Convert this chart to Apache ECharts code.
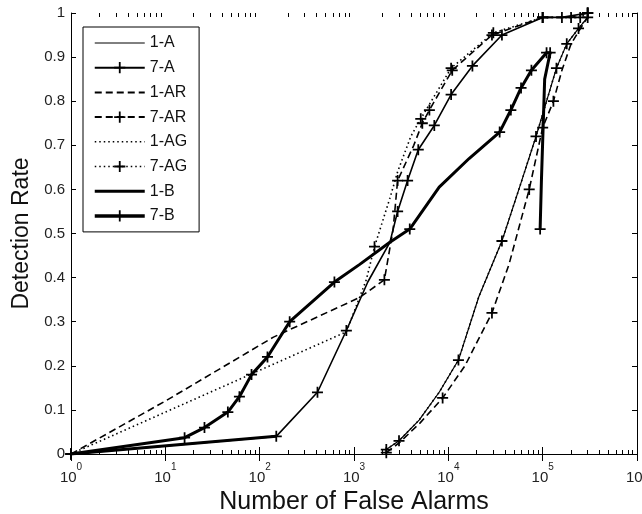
<!DOCTYPE html>
<html>
<head>
<meta charset="utf-8">
<script src="https://cdn.jsdelivr.net/npm/echarts@6/dist/echarts.min.js"></script>
<style>html,body{margin:0;padding:0;background:#fff;}#c{width:642px;height:514px;}</style>
</head>
<body>
<div id="c"></div>
<script>
// ---- data: [falseAlarms, detectionRate, marker(1/0)] ----
const names = ['1-A','7-A','1-AR','7-AR','1-AG','7-AG','1-B','7-B'];
const s1A = [[2200,0.01,1],[3000,0.03,1],[4900,0.077,0],[8000,0.14,0],[12800,0.213,1],[21000,0.356,0],[37000,0.483,1],[60000,0.62,0],[85000,0.72,1],[110000,0.80,0],[140000,0.875,1],[180000,0.93,1],[240000,0.965,1],[300000,0.99,1]];
const s7A = [[1,0,1],[150,0.04,1],[410,0.14,1],[830,0.28,1],[1400,0.39,0],[2400,0.48,0],[2900,0.55,1],[3700,0.62,1],[4800,0.69,1],[7100,0.745,1],[10700,0.815,1],[18000,0.88,1],[37000,0.95,1],[100000,0.99,1],[160000,0.99,1],[300000,1.0,1]];
const s1AR = [[2200,0.003,1],[3000,0.025,0],[5000,0.07,0],[8700,0.127,1],[15000,0.2,0],[29000,0.32,1],[44000,0.43,0],[72000,0.60,1],[100000,0.74,1],[130000,0.80,1],[160000,0.87,0],[200000,0.93,0],[260000,0.97,0],[300000,0.99,0]];
const s7AR = [[1,0,1],[10,0.12,0],[140,0.265,0],[1150,0.355,0],[2100,0.395,1],[2600,0.51,0],[2900,0.62,1],[4300,0.70,0],[5300,0.75,1],[6300,0.78,1],[11000,0.87,1],[29000,0.95,1],[100000,0.99,1],[200000,0.99,1],[300000,1.0,1]];
const s1AG = [[2200,0.01,0],[3000,0.03,0],[4900,0.077,0],[8000,0.14,0],[12800,0.213,0],[21000,0.356,0],[37000,0.483,0],[60000,0.62,0],[85000,0.72,0],[110000,0.80,0],[140000,0.875,0],[180000,0.93,0],[240000,0.965,0],[300000,0.99,0]];
const s7AG = [[1,0,1],[830,0.277,0],[1350,0.395,0],[1650,0.47,1],[2400,0.58,0],[2900,0.64,0],[4000,0.72,0],[5100,0.76,1],[10700,0.875,1],[30000,0.955,1],[100000,0.99,1],[250000,0.99,1],[300000,1.0,1]];
const s1B = [[1,0,0],[150,0.04,0]];
const s7B = [[1,0,1],[16,0.037,1],[26,0.06,1],[46,0.095,1],[61,0.13,1],[82,0.18,1],[121,0.22,1],[208,0.30,1],[620,0.39,1],[1150,0.43,0],[2400,0.48,0],[3900,0.51,1],[8000,0.605,0],[16600,0.67,0],[35000,0.73,1],[46000,0.78,1],[59000,0.83,1],[76000,0.87,1],[110000,0.91,1],[120000,0.91,1],[105000,0.85,0],[97000,0.62,0],[94000,0.51,1]];
const xMajor = [1,10,100,1000,10000,100000,1000000];
const xMinor = [];
for (let e = 0; e < 6; e++) for (let m = 2; m <= 9; m++) xMinor.push(m * Math.pow(10, e));
const yTicks = [0,0.1,0.2,0.3,0.4,0.5,0.6,0.7,0.8,0.9,1];

const FONT = '"Liberation Sans", Arial, Helvetica, sans-serif';
const PLUS = 'path://M-0.16,-1H0.16V-0.16H1V0.16H0.16V1H-0.16V0.16H-1V-0.16H-0.16Z';

function mk(name, pts, type, width, marker, z) {
  return {
    name: name, type: 'line', z: z,
    data: pts.map(p => ({ value: [p[0], p[1]], symbol: p[2] ? PLUS : 'none' })),
    symbol: marker ? PLUS : 'none', symbolSize: 11, showAllSymbol: true,
    lineStyle: { color: '#000', width: width, type: type },
    itemStyle: { color: '#000' },
    emphasis: { disabled: true }, animation: false, clip: true
  };
}
const dashed = [7, 4], dotted = [1.5, 3];
const styles = {
  '1-A':  { type: 'solid', w: 1.2, m: false },
  '7-A':  { type: 'solid', w: 1.6, m: true },
  '1-AR': { type: dashed,  w: 1.6, m: false },
  '7-AR': { type: dashed,  w: 1.6, m: true },
  '1-AG': { type: dotted,  w: 1.6, m: false },
  '7-AG': { type: dotted,  w: 1.6, m: true },
  '1-B':  { type: 'solid', w: 3,   m: false },
  '7-B':  { type: 'solid', w: 3,   m: true }
};
const pts = { '1-A': s1A, '7-A': s7A, '1-AR': s1AR, '7-AR': s7AR, '1-AG': s1AG, '7-AG': s7AG, '1-B': s1B, '7-B': s7B };
const zs = { '1-A': 2, '7-A': 3, '1-AR': 2, '7-AR': 3, '1-AG': 2, '7-AG': 3, '1-B': 4, '7-B': 5 };
const series = names.map(n => mk(n, pts[n], styles[n].type, styles[n].w, styles[n].m, zs[n]));
const legendLineW = { '1-A': 1, '7-A': 2, '1-AR': 2, '7-AR': 2, '1-AG': 1.5, '7-AG': 1.5, '1-B': 3, '7-B': 3.5 };
const legendData = names.map(n => ({
  name: n,
  itemStyle: styles[n].m ? { color: '#000', opacity: 1 } : { opacity: 0 },
  lineStyle: { color: '#000', width: legendLineW[n], type: styles[n].type }
}));

const grid = { left: 71, right: 5, top: 13, bottom: 60, containLabel: false, outerBoundsMode: 'none' };
const lineBlack = { show: true, lineStyle: { color: '#000', width: 1 } };
function xAx(pos, ticks, len, labels, line) {
  return {
    type: 'log', logBase: 10, min: 1, max: 1000000, position: pos,
    axisLine: line ? lineBlack : { show: false },
    axisTick: { show: true, inside: true, length: len, customValues: ticks, lineStyle: { color: '#000', width: 1 } },
    axisLabel: labels ? {
      show: true, customValues: xMajor, margin: 8, color: '#222', fontFamily: FONT, fontSize: 15,
      formatter: v => '{b|10}{s|' + Math.round(Math.log10(v)) + '}',
      rich: { b: { fontSize: 15, fontFamily: FONT, color: '#222', padding: [8, 0, 0, 0] }, s: { fontSize: 10, fontFamily: FONT, color: '#222', verticalAlign: 'top', padding: [0, 0, 0, 0] } }
    } : { show: false },
    splitLine: { show: false }, minorSplitLine: { show: false }
  };
}
function yAx(pos, labels) {
  return {
    type: 'value', min: 0, max: 1, interval: 0.1, position: pos,
    axisLine: lineBlack,
    axisTick: { show: true, inside: true, length: 5, lineStyle: { color: '#000' } },
    axisLabel: labels ? { show: true, margin: 6, color: '#222', fontFamily: FONT, fontSize: 15 } : { show: false },
    splitLine: { show: false }
  };
}
const xAxes = [xAx('bottom', xMajor, 7, true, true), xAx('top', xMajor, 7, false, true), xAx('bottom', xMinor, 4, false, false), xAx('top', xMinor, 4, false, false)];
xAxes[0].name = 'Number of False Alarms';
xAxes[0].nameLocation = 'middle';
xAxes[0].nameGap = 29;
xAxes[0].nameTextStyle = { fontSize: 25, fontFamily: FONT, color: '#111' };
const yAxes = [yAx('left', true), yAx('right', false)];
yAxes[0].name = 'Detection Rate';
yAxes[0].nameLocation = 'middle';
yAxes[0].nameGap = 38;
yAxes[0].nameTextStyle = { fontSize: 23, fontFamily: FONT, color: '#111' };

const chart = echarts.init(document.getElementById('c'), null, { renderer: 'canvas' });
chart.setOption({
  backgroundColor: '#fff',
  animation: false,
  textStyle: { fontFamily: FONT },
  grid: grid,
  xAxis: xAxes,
  yAxis: yAxes,
  legend: {
    data: legendData, orient: 'vertical', left: 83, top: 27,
    itemWidth: 50, itemHeight: 14, itemGap: 8.7,
    padding: [8, 12, 8, 10],
    borderColor: '#000', borderWidth: 1, backgroundColor: '#fff',
    textStyle: { fontSize: 16, fontFamily: FONT, color: '#111' },
    selectedMode: false, z: 10
  },
  series: series
});
</script>
</body>
</html>
